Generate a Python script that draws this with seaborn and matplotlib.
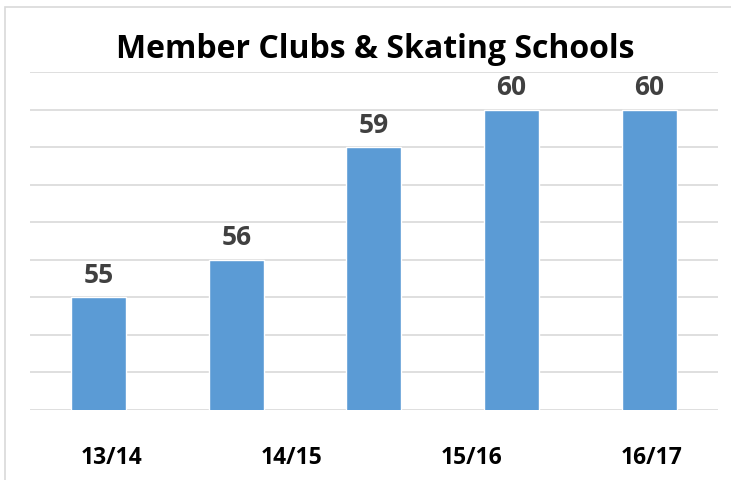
import matplotlib
matplotlib.use("Agg")
import matplotlib.pyplot as plt
import numpy as np
import pandas as pd
import seaborn as sns
from matplotlib.patches import Rectangle

seasons = ["13/14", "14/15", "15/16", "16/17", "17/18"]
members = [55, 56, 59, 60, 60]
tick_labels = ["13/14", "14/15", "15/16", "16/17"]

sns.set_theme(style="white")
plt.rcParams["font.family"] = ["Open Sans", "DejaVu Sans"]

df = pd.DataFrame({"season": seasons, "members": members})

fig = plt.figure(figsize=(7.31, 4.80), dpi=100)
ax = fig.add_axes([0.041, 0.146, 0.941, 0.704])
sns.barplot(data=df, x="season", y="members", color="#5B9BD5", saturation=1,
            width=0.4, ax=ax)

ax.set_ylim(52, 61)
ax.set_xlim(-0.5, 4.5)
ax.set_yticks(np.arange(52, 62, 1))
ax.yaxis.grid(True, color="#D9D9D9", linewidth=1.2)
ax.set_axisbelow(True)
ax.tick_params(axis="y", left=False, labelleft=False)
for s in ax.spines.values():
    s.set_visible(False)

for i, v in enumerate(members):
    ax.annotate(str(v), (i, v), xytext=(0, 6), textcoords="offset points",
                ha="center", va="bottom", fontsize=19, fontweight="bold",
                color="#404040")

# category labels sit on their own evenly spaced slots
ax.set_xticks(np.linspace(0.09, 4.02, len(tick_labels)))
ax.set_xticklabels(tick_labels, fontsize=16.5, fontweight="bold", color="black")
ax.tick_params(axis="x", bottom=False, pad=20)
ax.set_xlabel("")
ax.set_ylabel("")

fig.text(0.513, 0.897, "Member Clubs & Skating Schools", ha="center", va="center",
         fontsize=23, fontweight="bold", color="black")

fig.patches.append(Rectangle((0.007, -0.01), 1.0, 0.995, transform=fig.transFigure,
                             fill=False, edgecolor="#D9D9D9", linewidth=1.2))

fig.savefig("out.png", dpi=100, facecolor="white")
